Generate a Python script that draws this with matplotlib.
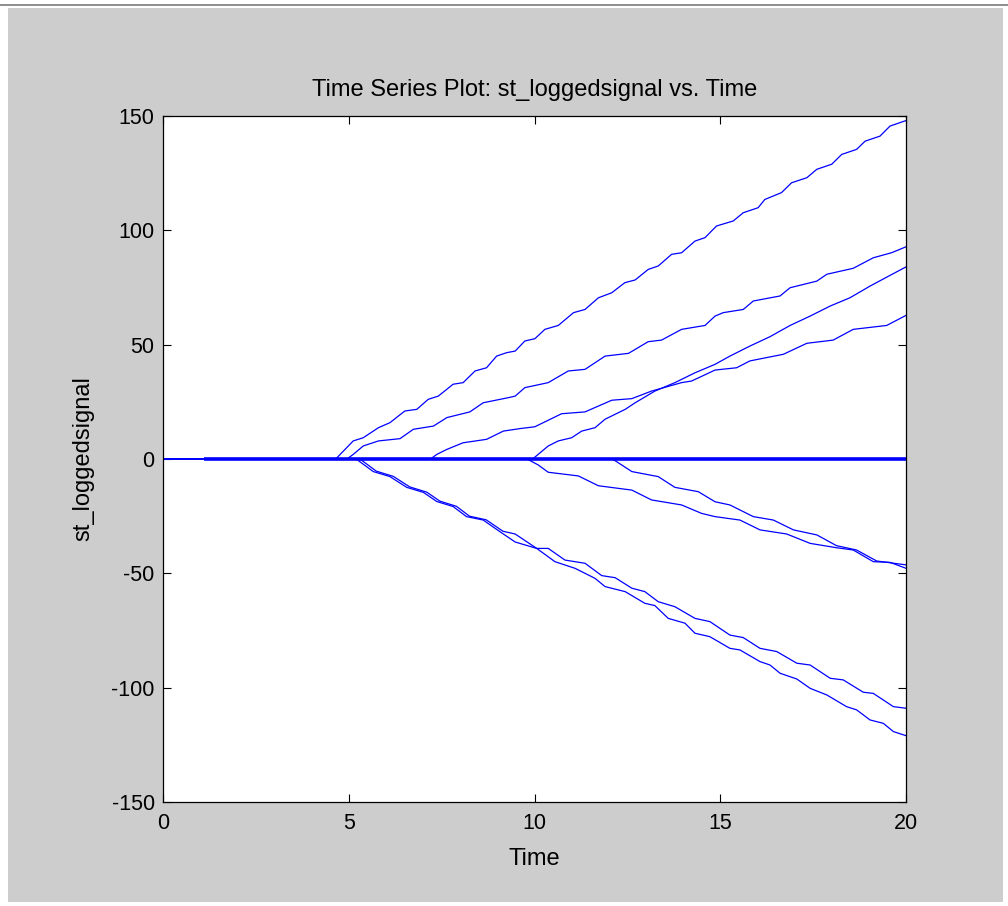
import matplotlib
matplotlib.use('Agg')
import matplotlib.pyplot as plt
from matplotlib.patches import Rectangle
from matplotlib.lines import Line2D

# ---------------- data ----------------
title_text = "Time Series Plot: st_loggedsignal vs. Time"
x_label = "Time"
y_label = "st_loggedsignal"
x_ticks = [0, 5, 10, 15, 20]
y_ticks = [-150, -100, -50, 0, 50, 100, 150]

A_t = [0, 4.65, 5.12, 5.39, 5.80, 6.11, 6.51, 6.83, 7.14, 7.41, 7.81, 8.08, 8.40, 8.71, 8.98, 9.25, 9.48, 9.74,
       10.01, 10.28, 10.64, 11.05, 11.36, 11.72, 12.08, 12.43, 12.71, 13.06, 13.33, 13.69, 13.96, 14.32, 14.59,
       14.90, 15.35, 15.62, 16.02, 16.20, 16.65, 16.92, 17.33, 17.60, 18.00, 18.27, 18.67, 18.90, 19.30, 19.57, 20.0]
A_v = [0, 0, 7.9, 9.3, 13.7, 15.9, 21.0, 21.7, 26.1, 27.5, 32.7, 33.4, 38.5, 39.9, 45.0, 46.5, 47.2, 51.6,
       52.6, 56.7, 58.4, 64.0, 65.4, 70.5, 72.7, 77.1, 78.3, 82.9, 84.4, 89.5, 90.2, 95.3, 96.8,
       101.9, 104.1, 107.7, 109.9, 113.5, 116.5, 120.8, 123.0, 126.7, 128.9, 133.2, 135.4, 139.0, 141.2, 145.6, 148.0]

B_t = [0, 4.95, 5.12, 5.39, 5.80, 6.38, 6.74, 7.28, 7.64, 8.26, 8.62, 9.29, 9.48, 9.74, 10.37, 10.91, 11.36,
       11.90, 12.53, 13.06, 13.42, 13.96, 14.59, 14.86, 15.08, 15.62, 15.89, 16.61, 16.88, 17.60, 17.87, 18.58,
       19.12, 19.61, 20.0]
B_v = [0, 0, 2.0, 5.7, 7.9, 8.9, 13.0, 14.4, 18.1, 20.6, 24.6, 26.8, 27.5, 31.2, 33.4, 38.5, 39.2,
       45.0, 46.2, 51.3, 52.0, 56.7, 58.4, 62.5, 64.0, 65.4, 69.1, 71.3, 74.9, 77.8, 80.8, 83.4,
       88.0, 90.2, 92.8]

C_t = [0, 7.2, 7.37, 7.64, 8.08, 8.71, 9.16, 9.61, 10.01, 10.73, 11.36, 12.08, 12.62, 13.15, 13.96, 14.23,
       14.86, 15.44, 15.80, 16.70, 17.33, 18.04, 18.58, 19.48, 20.0]
C_v = [0, 0, 2.0, 4.2, 7.1, 8.6, 12.2, 13.3, 14.1, 19.8, 20.6, 25.7, 26.4, 29.7, 33.4, 34.1,
       38.9, 39.9, 42.9, 45.8, 50.6, 52.0, 56.7, 58.4, 62.8]

D_t = [0, 9.95, 10.37, 10.64, 11.00, 11.27, 11.63, 11.90, 12.44, 12.71, 13.24, 13.78, 14.32, 14.86, 15.26,
       15.80, 16.34, 16.88, 17.42, 17.96, 18.49, 19.03, 19.57, 20.0]
D_v = [0, 0, 5.7, 7.9, 9.3, 12.2, 13.7, 17.4, 21.7, 24.6, 29.7, 33.4, 37.7, 41.4, 45.0,
       49.4, 53.5, 58.4, 62.5, 66.9, 70.5, 75.6, 80.3, 84.0]

E_t = [0, 5.2, 5.66, 6.11, 6.56, 7.01, 7.37, 7.81, 8.17, 8.62, 9.07, 9.48, 10.06, 10.37, 10.82, 11.36, 11.81,
       12.17, 12.62, 12.97, 13.33, 13.78, 14.32, 14.72, 15.26, 15.62, 16.07, 16.52, 17.06, 17.42, 17.96, 18.31,
       18.85, 19.12, 19.66, 20.0]
E_v = [0, 0, -5.5, -7.7, -12.4, -14.6, -18.6, -20.8, -25.2, -26.7, -31.8, -36.3, -39.1, -39.1, -44.2, -45.6,
       -51.0, -51.9, -56.5, -58.0, -62.4, -64.6, -69.7, -71.1, -77.0, -78.1, -82.8, -84.2, -89.3, -90.1, -95.9,
       -96.6, -102.0, -102.5, -108.3, -109.0]

F_t = [0, 5.3, 5.74, 6.2, 6.64, 7.1, 7.45, 7.9, 8.25, 8.7, 9.15, 9.48, 10.06, 10.55, 11.09, 11.63, 11.90,
       12.44, 12.97, 13.24, 13.60, 14.05, 14.32, 14.72, 15.26, 15.53, 16.07, 16.34, 16.61, 17.06, 17.42, 17.87,
       18.40, 18.67, 19.03, 19.39, 19.66, 20.0]
F_v = [0, 0, -5.3, -7.6, -12.2, -14.5, -18.4, -20.7, -25.0, -26.6, -31.6, -32.8, -39.1, -44.9, -47.8, -52.2,
       -55.8, -58.0, -63.1, -64.1, -69.7, -71.8, -76.2, -77.7, -82.8, -83.5, -88.6, -90.1, -93.7, -96.2, -100.3,
       -103.2, -108.3, -109.7, -114.1, -115.6, -119.2, -121.0]

G_t = [0, 9.8, 10.10, 10.37, 11.18, 11.72, 12.62, 13.15, 13.96, 14.50, 14.86, 15.53, 16.07, 16.79, 17.42,
       18.13, 18.58, 19.12, 19.57, 20.0]
G_v = [0, 0, -2.6, -5.8, -7.4, -11.7, -13.6, -17.9, -20.1, -23.8, -25.2, -26.7, -31.0, -32.8, -36.9,
       -38.8, -39.8, -44.9, -45.2, -47.8]

H_t = [0, 12.1, 12.62, 13.33, 13.78, 14.41, 14.86, 15.26, 15.89, 16.43, 16.97, 17.60, 18.13, 18.67, 19.21, 20.0]
H_v = [0, 0, -5.5, -7.7, -12.4, -14.3, -18.7, -20.1, -25.2, -26.7, -31.0, -33.2, -37.9, -39.8, -44.6, -46.3]

flat_t = [1.1, 20.0]
flat_v = [0, 0]

# ---------------- styling ----------------
plt.rcParams['font.family'] = ['Liberation Sans', 'DejaVu Sans']
plt.rcParams['axes.unicode_minus'] = False
W, H = 1008, 906
LINE_COLOR = '#0000ff'

fig = plt.figure(figsize=(W / 100, H / 100), dpi=100, facecolor='white')
bg = Rectangle((8 / W, 4 / H), (1003 - 8) / W, (898 - 4) / H,
               transform=fig.transFigure, facecolor='#cdcdcd',
               edgecolor='none', zorder=-10)
fig.patches.append(bg)
top_line = Line2D([0, 1], [1 - 5 / H] * 2, transform=fig.transFigure,
                  color='#7a7a7a', lw=1.2, zorder=-9)
fig.lines.append(top_line)

ax = fig.add_axes([163 / W, 104 / H, 743 / W, 686 / H])
ax.set_zorder(5)
ax.set_facecolor('white')

series = [(A_t, A_v), (B_t, B_v), (C_t, C_v), (D_t, D_v),
          (E_t, E_v), (F_t, F_v), (G_t, G_v), (H_t, H_v)]
ax.plot(flat_t, flat_v, color=LINE_COLOR, lw=2.6, solid_capstyle='butt')
for t, v in series:
    ax.plot(t, v, color=LINE_COLOR, lw=0.9)

ax.set_xlim(0, 20)
ax.set_ylim(-150, 150)
ax.set_xticks(x_ticks)
ax.set_yticks(y_ticks)
ax.tick_params(axis='both', direction='in', top=True, right=True, length=6,
               width=0.8, labelsize=15.5, colors='black')
ax.tick_params(axis='x', pad=8)
ax.tick_params(axis='y', pad=6)
for s in ax.spines.values():
    s.set_linewidth(0.9)
    s.set_color('black')

ax.set_title(title_text, fontsize=17, y=1 + 26 / 686, va='center', pad=0)
ax.set_xlabel(x_label, fontsize=17, va='center')
ax.xaxis.set_label_coords(0.5, -57 / 686)
ax.set_ylabel(y_label, fontsize=17, va='center')
ax.yaxis.set_label_coords(-80 / 743, 0.5)

fig.savefig('out.png', dpi=100, facecolor=fig.get_facecolor())
